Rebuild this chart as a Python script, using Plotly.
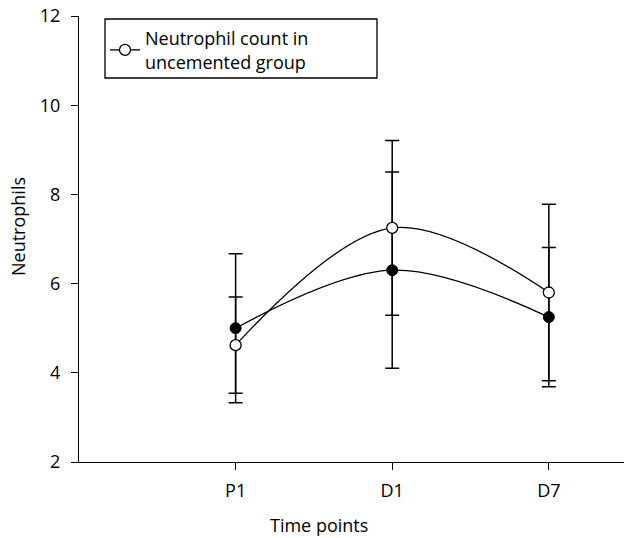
import plotly.graph_objects as go

# Time points on the x axis (positions 1..3)
time_labels = ["P1", "D1", "D7"]
time_pos = [1, 2, 3]

# Uncemented group (open circles): mean and error
uncemented_mean = [4.62, 7.25, 5.80]
uncemented_err = [1.08, 1.96, 1.98]

# Cemented group (filled circles): mean and error
cemented_mean = [5.00, 6.30, 5.25]
cemented_err = [1.67, 2.20, 1.56]

FONT = "Open Sans"
FS = 18
BLACK = "#000000"

# plot area in pixels: x 79..624, y 16..462
L, R, T, B = 79, 624, 16, 462
def px(x):
    return (x - L) / (R - L)
def py(y):
    return (B - y) / (B - T)

fig = go.Figure()

fig.add_trace(go.Scatter(
    x=time_pos, y=cemented_mean,
    mode="lines+markers",
    line=dict(color=BLACK, width=1.3, shape="spline", smoothing=1),
    marker=dict(symbol="circle", size=11, color=BLACK, line=dict(color=BLACK, width=1)),
    error_y=dict(type="data", array=cemented_err, visible=True,
                 color=BLACK, thickness=1.5, width=7),
    showlegend=False,
    cliponaxis=False,
))

fig.add_trace(go.Scatter(
    x=time_pos, y=uncemented_mean,
    mode="lines+markers",
    name="Neutrophil count in<br>uncemented group",
    line=dict(color=BLACK, width=1.3, shape="spline", smoothing=1),
    marker=dict(symbol="circle", size=11, color="white", line=dict(color=BLACK, width=1.3)),
    error_y=dict(type="data", array=uncemented_err, visible=True,
                 color=BLACK, thickness=1.5, width=7),
    cliponaxis=False,
))

fig.update_layout(
    width=624, height=538,
    margin=dict(l=L, r=624 - R, t=T, b=538 - B),
    paper_bgcolor="white", plot_bgcolor="white",
    font=dict(family=FONT, size=FS, color=BLACK),
    legend=dict(
        x=px(105), y=py(20), xanchor="left", yanchor="top",
        borderwidth=0, bgcolor="rgba(0,0,0,0)",
        font=dict(family=FONT, size=FS, color=BLACK),
        itemwidth=30,
    ),
    shapes=[
        # legend frame
        dict(type="rect", xref="paper", yref="paper",
             x0=px(105), x1=px(377), y0=py(78), y1=py(19),
             line=dict(color=BLACK, width=1.3), fillcolor="rgba(0,0,0,0)",
             layer="above"),
    ],
    xaxis=dict(
        range=[0, 3.48],
        tickmode="array", tickvals=time_pos, ticktext=time_labels,
        showline=True, linecolor=BLACK, linewidth=1.3,
        ticks="outside", ticklen=7, tickwidth=1.3, tickcolor=BLACK,
        showgrid=False, zeroline=False,
        ticklabelstandoff=5,
        tickfont=dict(family=FONT, size=FS, color=BLACK),
    ),
    yaxis=dict(
        range=[2, 12],
        tickmode="array", tickvals=[2, 4, 6, 8, 10, 12],
        showline=True, linecolor=BLACK, linewidth=1.3,
        ticks="outside", ticklen=7, tickwidth=1.3, tickcolor=BLACK,
        showgrid=False, zeroline=False,
        ticklabelstandoff=7,
        tickfont=dict(family=FONT, size=FS, color=BLACK),
    ),
    annotations=[
        dict(text="Time points", xref="paper", yref="paper",
             x=px(319), y=py(525),
             xanchor="center", yanchor="middle", showarrow=False,
             font=dict(family=FONT, size=FS, color=BLACK)),
        dict(text="Neutrophils", xref="paper", yref="paper",
             x=px(18), y=py(227),
             xanchor="center", yanchor="middle", showarrow=False, textangle=-90,
             font=dict(family=FONT, size=FS, color=BLACK)),
    ],
)

fig.write_html("out.html")
